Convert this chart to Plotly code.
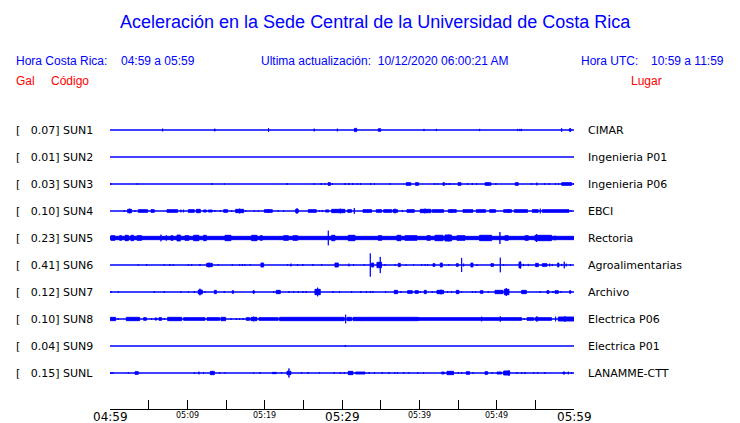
import plotly.graph_objects as go

# ---------------- data ----------------
CODES = ["SUN1", "SUN2", "SUN3", "SUN4", "SUN5", "SUN6", "SUN7", "SUN8", "SUN9", "SUNL"]
GAL = [0.07, 0.01, 0.03, 0.10, 0.23, 0.41, 0.12, 0.10, 0.04, 0.15]
PLACES = ["CIMAR", "Ingenieria P01", "Ingenieria P06", "EBCI", "Rectoria",
          "Agroalimentarias", "Archivo", "Electrica P06", "Electrica P01", "LANAMME-CTT"]

TICK_MIN = [0, 5, 10, 15, 20, 25, 30, 35, 40, 45, 50, 55, 60]   # minutes after 04:59
BIG_LABELS = {0: "04:59", 30: "05:29", 60: "05:59"}
SMALL_LABELS = {10: "05:09", 20: "05:19", 40: "05:39", 50: "05:49"}

# events: (start minute, end minute, half amplitude in trace-spacing units)
SUN1_EV = [(6.8, 6.8, .05), (13.5, 13.6, .04), (20.5, 20.5, .075), (26.4, 26.4, .05), (29.4, 29.4, .05),
           (31.6, 31.9, .06), (34.7, 35.0, .05), (40.6, 40.6, .04), (42.2, 42.2, .04), (47.8, 47.8, .04),
           (52.7, 52.7, .04), (53.0, 53.0, .04), (53.2, 53.2, .04), (58.4, 58.4, .065), (59.4, 59.6, .05)]
SUN2_EV = []
SUN3_EV = [(0.1, 0.1, .037), (3.5, 3.5, .025), (13.2, 13.2, .037), (14.8, 14.8, .025), (22.9, 22.9, .037),
           (26.4, 26.4, .025), (27.3, 27.3, .037), (27.8, 27.8, .025), (28.2, 28.5, .05), (28.75, 28.75, .037),
           (30.4, 30.4, .037), (30.9, 30.9, .037), (31.4, 31.4, .037), (32.0, 32.0, .037), (32.4, 32.4, .037),
           (33.7, 33.7, .037), (34.2, 34.2, .025), (36.25, 36.25, .037), (38.3, 38.9, .05), (39.5, 39.9, .05),
           (42.0, 42.0, .037), (42.4, 42.4, .025), (43.05, 43.25, .05), (43.5, 43.5, .037), (43.75, 43.75, .037),
           (44.0, 44.0, .037), (44.5, 44.5, .025), (45.0, 45.4, .05), (46.25, 46.25, .037), (46.85, 46.85, .037),
           (47.4, 47.4, .037), (48.5, 49.25, .05), (49.9, 49.9, .037), (52.4, 52.8, .05), (54.5, 54.5, .037),
           (55.2, 55.2, .05), (56.2, 56.2, .037), (56.8, 56.8, .037), (57.6, 57.6, .037), (58.0, 58.0, .037),
           (58.4, 59.7, .05), (59.95, 59.95, .037)]
SUN4_EV = [(1.85, 1.85, .037), (2.28, 2.8, .062), (2.54, 2.54, .086), (3.23, 3.23, .037), (3.66, 4.87, .05),
           (5.3, 5.73, .05), (7.37, 8.75, .05), (9.18, 9.18, .05), (9.52, 9.52, .05), (10.13, 10.9, .05),
           (11.16, 11.68, .062), (11.33, 11.33, .074), (12.1, 12.45, .04), (12.71, 13.23, .037), (13.57, 13.57, .037),
           (14.26, 14.26, .03), (14.7, 15.2, .05), (15.73, 15.73, .03), (16.25, 17.28, .062), (16.76, 16.76, .086),
           (17.54, 17.54, .03), (18.66, 18.66, .03), (19.18, 19.18, .03), (19.95, 20.99, .05), (20.47, 20.47, .074),
           (21.76, 21.76, .03), (22.45, 22.45, .03), (24.0, 24.35, .062), (24.18, 24.18, .1), (25.64, 26.68, .05),
           (27.1, 27.1, .03), (27.45, 27.45, .04), (27.88, 28.3, .04), (28.66, 30.38, .062), (29.78, 29.78, .086),
           (30.73, 31.24, .05), (31.59, 31.59, .11), (32.71, 33.83, .05), (34.43, 35.12, .05), (35.38, 36.42, .05),
           (36.59, 37.19, .05), (36.85, 36.85, .086), (37.8, 37.8, .04), (38.4, 39.35, .05), (40.12, 41.5, .062),
           (40.73, 40.73, .086), (41.67, 43.14, .05), (43.74, 44.78, .05), (44.17, 44.17, .074), (45.64, 46.93, .05),
           (47.36, 48.57, .05), (49.09, 49.86, .05), (50.9, 51.93, .05), (51.5, 51.5, .074), (52.28, 54.0, .05),
           (54.6, 55.38, .05), (55.64, 55.64, .086), (55.9, 59.35, .05), (59.6, 59.6, .03)]
SUN5_EV = [(0.0, 60.0, .062), (0.13, 0.64, .086), (1.25, 1.5, .086), (1.94, 2.37, .1), (2.71, 3.06, .1),
           (3.49, 4.09, .086), (6.59, 6.59, .123), (7.28, 7.28, .1), (7.88, 8.14, .086), (8.66, 9.09, .11),
           (9.69, 10.21, .086), (10.81, 11.5, .1), (12.1, 12.45, .1), (14.87, 15.64, .1), (18.31, 19.0, .1),
           (19.43, 19.69, .086), (22.45, 23.06, .086), (23.66, 24.26, .086), (28.23, 28.23, .27), (28.66, 29.09, .1),
           (30.81, 31.68, .1), (34.69, 35.12, .086), (37.11, 37.62, .1), (38.14, 39.69, .086), (40.98, 41.42, .086),
           (42.02, 43.05, .1), (43.31, 44.17, .11), (43.74, 43.74, .123), (44.86, 45.9, .086), (47.79, 49.35, .1),
           (50.42, 50.42, .22), (51.07, 51.5, .086), (53.66, 54.09, .086), (54.95, 57.1, .1), (55.16, 55.16, .148),
           (57.54, 57.54, .086), (59.26, 59.26, .074)]
SUN6_EV = [(3.66, 3.66, .025), (4.74, 4.74, .037), (7.02, 7.02, .03), (7.75, 7.75, .037), (8.19, 8.19, .03),
           (10.13, 10.13, .03), (10.56, 10.56, .03), (11.63, 11.63, .037), (12.5, 13.23, .062), (12.8, 12.8, .086),
           (14.0, 14.0, .03), (15.81, 15.81, .03), (16.76, 16.76, .03), (17.11, 17.11, .03), (17.45, 17.45, .03),
           (18.14, 18.14, .03), (19.52, 19.87, .074), (22.97, 22.97, .03), (23.4, 23.4, .05), (24.26, 24.26, .037),
           (24.95, 24.95, .037), (26.24, 26.24, .037), (27.37, 27.37, .03), (29.09, 29.52, .074), (30.9, 30.9, .05),
           (31.5, 31.5, .03), (32.88, 32.88, .03), (33.66, 33.66, .43), (33.83, 34.09, .074), (34.52, 35.12, .1),
           (34.95, 34.95, .3), (35.55, 35.55, .03), (36.85, 36.85, .03), (37.28, 37.54, .062), (38.31, 38.31, .025),
           (39.26, 39.26, .025), (40.3, 40.3, .03), (40.73, 40.73, .03), (41.07, 41.07, .03), (41.76, 42.02, .05),
           (42.71, 42.97, .074), (43.83, 43.83, .03), (44.78, 45.04, .05), (45.47, 45.47, .26), (45.73, 45.73, .05),
           (46.67, 46.93, .074), (47.45, 47.45, .03), (49.26, 49.6, .05), (50.47, 50.47, .27), (50.9, 50.9, .03),
           (52.88, 53.14, .1), (53.05, 53.05, .136), (53.48, 53.48, .04), (54.09, 54.09, .04), (55.04, 55.38, .062),
           (55.9, 56.5, .05), (56.85, 56.85, .05), (57.19, 57.19, .04), (57.88, 58.05, .074), (58.4, 58.4, .04),
           (58.74, 58.74, .123), (59.0, 59.0, .05), (59.52, 59.52, .037)]
SUN7_EV = [(0.13, 0.13, .037), (1.07, 1.07, .025), (5.73, 5.73, .037), (7.02, 7.02, .037), (9.18, 9.18, .03),
           (10.13, 10.13, .03), (10.9, 10.9, .037), (11.42, 11.94, .074), (11.63, 11.63, .123), (12.28, 12.28, .03),
           (13.49, 13.75, .062), (14.78, 14.78, .037), (15.81, 15.99, .05), (18.49, 18.66, .05), (21.16, 21.16, .03),
           (21.5, 22.02, .062), (23.14, 23.14, .037), (23.74, 23.74, .037), (24.35, 24.35, .037), (24.95, 24.95, .037),
           (25.38, 25.38, .037), (26.5, 27.19, .1), (26.85, 26.85, .16), (28.83, 28.83, .037), (29.69, 29.69, .037),
           (31.24, 31.24, .037), (32.45, 32.45, .037), (33.14, 33.14, .037), (33.66, 33.66, .037), (34.0, 34.0, .037),
           (35.64, 35.64, .037), (36.76, 37.19, .062), (37.62, 37.62, .037), (38.48, 39.09, .05), (39.43, 39.87, .05),
           (40.12, 40.12, .037), (40.64, 40.9, .062), (41.67, 41.67, .037), (42.28, 43.14, .062), (42.8, 42.8, .086),
           (43.66, 43.66, .037), (44.17, 44.17, .037), (44.78, 45.12, .062), (45.47, 45.47, .03), (46.85, 46.85, .037),
           (47.28, 47.28, .037), (47.88, 48.23, .05), (48.92, 48.92, .037), (49.78, 50.81, .062), (50.98, 51.59, .1),
           (51.24, 51.24, .148), (53.23, 53.83, .062), (55.64, 55.64, .037), (56.5, 56.76, .05), (57.28, 57.28, .037),
           (57.54, 57.97, .05), (58.31, 58.31, .037), (59.43, 59.6, .05)]
SUN8_EV = [(0.04, 0.73, .062), (1.07, 1.07, .037), (2.11, 3.83, .062), (4.35, 4.7, .05), (5.38, 5.38, .037),
           (5.82, 6.07, .037), (6.33, 6.68, .05), (7.02, 7.02, .037), (7.45, 9.26, .062), (9.52, 12.28, .05),
           (12.54, 14.18, .05), (14.35, 14.95, .062), (15.64, 15.64, .037), (16.33, 16.33, .037), (16.76, 16.76, .037),
           (17.19, 17.19, .037), (17.62, 18.06, .05), (18.23, 19.0, .062), (18.57, 18.57, .086), (19.26, 21.76, .05),
           (21.93, 30.3, .062), (30.47, 30.47, .16), (30.64, 31.24, .062), (31.42, 39.87, .062), (39.87, 53.23, .05),
           (48.05, 48.05, .086), (50.47, 50.47, .1), (53.57, 53.57, .037), (53.92, 54.78, .05), (54.95, 57.1, .05),
           (55.21, 55.21, .1), (57.62, 57.62, .086), (57.97, 60.0, .074), (58.83, 58.83, .1)]
SUN9_EV = [(30.43, 30.43, .037)]
SUNL_EV = [(0.13, 0.13, .037), (0.38, 0.38, .03), (2.37, 2.37, .025), (3.23, 3.66, .05), (10.9, 10.9, .03),
           (11.5, 11.5, .05), (12.1, 12.1, .03), (12.97, 13.49, .062), (14.18, 14.18, .03), (14.87, 14.87, .025),
           (18.57, 18.57, .025), (19.43, 19.43, .037), (20.99, 21.5, .025), (22.19, 22.19, .03), (22.88, 23.4, .062),
           (23.14, 23.14, .17), (24.78, 24.78, .037), (25.64, 25.64, .037), (27.1, 27.1, .025), (29.0, 29.0, .037),
           (29.78, 29.78, .037), (30.3, 30.3, .037), (30.81, 31.42, .062), (31.76, 32.97, .037), (33.49, 33.49, .037),
           (34.18, 34.18, .037), (35.21, 35.21, .037), (36.07, 36.07, .037), (36.85, 36.85, .03), (37.19, 37.19, .03),
           (37.97, 37.97, .037), (38.66, 38.66, .025), (39.78, 39.78, .037), (40.55, 40.55, .025), (42.88, 43.23, .037),
           (43.57, 44.43, .062), (45.04, 45.04, .03), (45.47, 45.47, .037), (46.07, 46.5, .05), (46.93, 46.93, .03),
           (48.49, 48.83, .05), (49.43, 49.43, .037), (50.04, 50.64, .037), (50.9, 51.68, .074), (51.59, 51.59, .1),
           (52.62, 52.62, .037), (53.23, 53.23, .037), (53.66, 53.66, .037), (54.78, 54.78, .037), (55.3, 55.3, .037),
           (56.24, 56.24, .037), (58.57, 58.83, .037), (59.26, 59.26, .05), (59.69, 59.69, .037)]

EVENTS = [SUN1_EV, SUN2_EV, SUN3_EV, SUN4_EV, SUN5_EV, SUN6_EV, SUN7_EV, SUN8_EV, SUN9_EV, SUNL_EV]

# ---------------- layout helpers ----------------
W, H = 740, 423
PX_L, PX_R = 110, 574     # plot area x pixels
PX_T, PX_B = 100, 409     # plot area y pixels
ROW0_PX, ROW_GAP = 130, 27

def pxx(p):
    return (p - PX_L) / (PX_R - PX_L)

def pxy(p):
    return (PX_B - p) / (PX_B - PX_T)

BLUE = "#0000FF"
RED = "#FF0000"

fig = go.Figure()

for i, evs in enumerate(EVENTS):
    yc = -i
    # baseline
    fig.add_trace(go.Scatter(x=[0, 60], y=[yc, yc], mode="lines",
                             line=dict(color=BLUE, width=1.3), hoverinfo="skip", showlegend=False))
    xs, ys = [], []
    for t0, t1, a in evs:
        xs += [t0, t1, t1, t0, t0, None]
        ys += [yc - a, yc - a, yc + a, yc + a, yc - a, None]
    if xs:
        fig.add_trace(go.Scatter(x=xs, y=ys, mode="lines", fill="toself", fillcolor=BLUE,
                                 line=dict(color=BLUE, width=0.9), hoverinfo="skip", showlegend=False))

ann = []
# header
ann.append(dict(text="Aceleración en la Sede Central de la Universidad de Costa Rica",
                x=pxx(375), y=pxy(22), xanchor="center", yanchor="middle",
                font=dict(family="Liberation Sans, Arial", size=18, color=BLUE)))
hdr = [("Hora Costa Rica:", 15, 61, BLUE), ("04:59 a 05:59", 120, 61, BLUE),
       ("Ultima actualización:\u00a0 10/12/2020 06:00:21 AM", 260, 61, BLUE),
       ("Hora UTC:", 580, 61, BLUE), ("10:59 a 11:59", 650, 61, BLUE),
       ("Gal", 15, 81, RED), ("Código", 50, 81, RED), ("Lugar", 630, 81, RED)]
for t, x, y, c in hdr:
    ann.append(dict(text=t, x=pxx(x), y=pxy(y), xanchor="left", yanchor="middle", borderpad=0,
                    font=dict(family="Liberation Sans, Arial", size=12, color=c)))

# station labels
for i, (code, g, place) in enumerate(zip(CODES, GAL, PLACES)):
    ypx = ROW0_PX + ROW_GAP * i
    ann.append(dict(text="[\u00a0\u00a0 %.2f] %s" % (g, code), x=pxx(15), y=pxy(ypx),
                    xanchor="left", yanchor="middle", borderpad=0,
                    font=dict(family="DejaVu Sans", size=11, color="black")))
    ann.append(dict(text=place, x=pxx(587), y=pxy(ypx), xanchor="left", yanchor="middle", borderpad=0,
                    font=dict(family="DejaVu Sans", size=11, color="black")))

# time axis labels
for m, lab in BIG_LABELS.items():
    ann.append(dict(text=lab, x=m, xref="x", y=pxy(416.5), yref="paper", xanchor="center", yanchor="middle",
                    borderpad=0, font=dict(family="DejaVu Sans", size=12, color="black")))
for m, lab in SMALL_LABELS.items():
    ann.append(dict(text=lab, x=m, xref="x", y=pxy(415.5), yref="paper", xanchor="center", yanchor="middle",
                    borderpad=0, font=dict(family="DejaVu Sans", size=8, color="black")))

for a in ann:
    a.setdefault("xref", "paper")
    a.setdefault("yref", "paper")
    a["showarrow"] = False

y_top = -(PX_T - ROW0_PX) / ROW_GAP
y_bot = -(PX_B - ROW0_PX) / ROW_GAP

fig.update_layout(
    width=W, height=H,
    margin=dict(l=PX_L, r=W - PX_R, t=PX_T, b=H - PX_B, pad=0),
    paper_bgcolor="white", plot_bgcolor="white",
    showlegend=False, hovermode=False,
    annotations=ann,
    xaxis=dict(range=[0, 60], showgrid=False, zeroline=False, showline=True, linecolor="black", linewidth=1,
               ticks="inside", ticklen=9, tickcolor="black", tickwidth=1,
               tickvals=TICK_MIN, showticklabels=False, fixedrange=True),
    yaxis=dict(range=[y_bot, y_top], visible=False, fixedrange=True),
)

fig.write_html("out.html", config={"displayModeBar": False},
               post_script="document.body.style.margin='0';document.body.style.overflow='hidden';")
